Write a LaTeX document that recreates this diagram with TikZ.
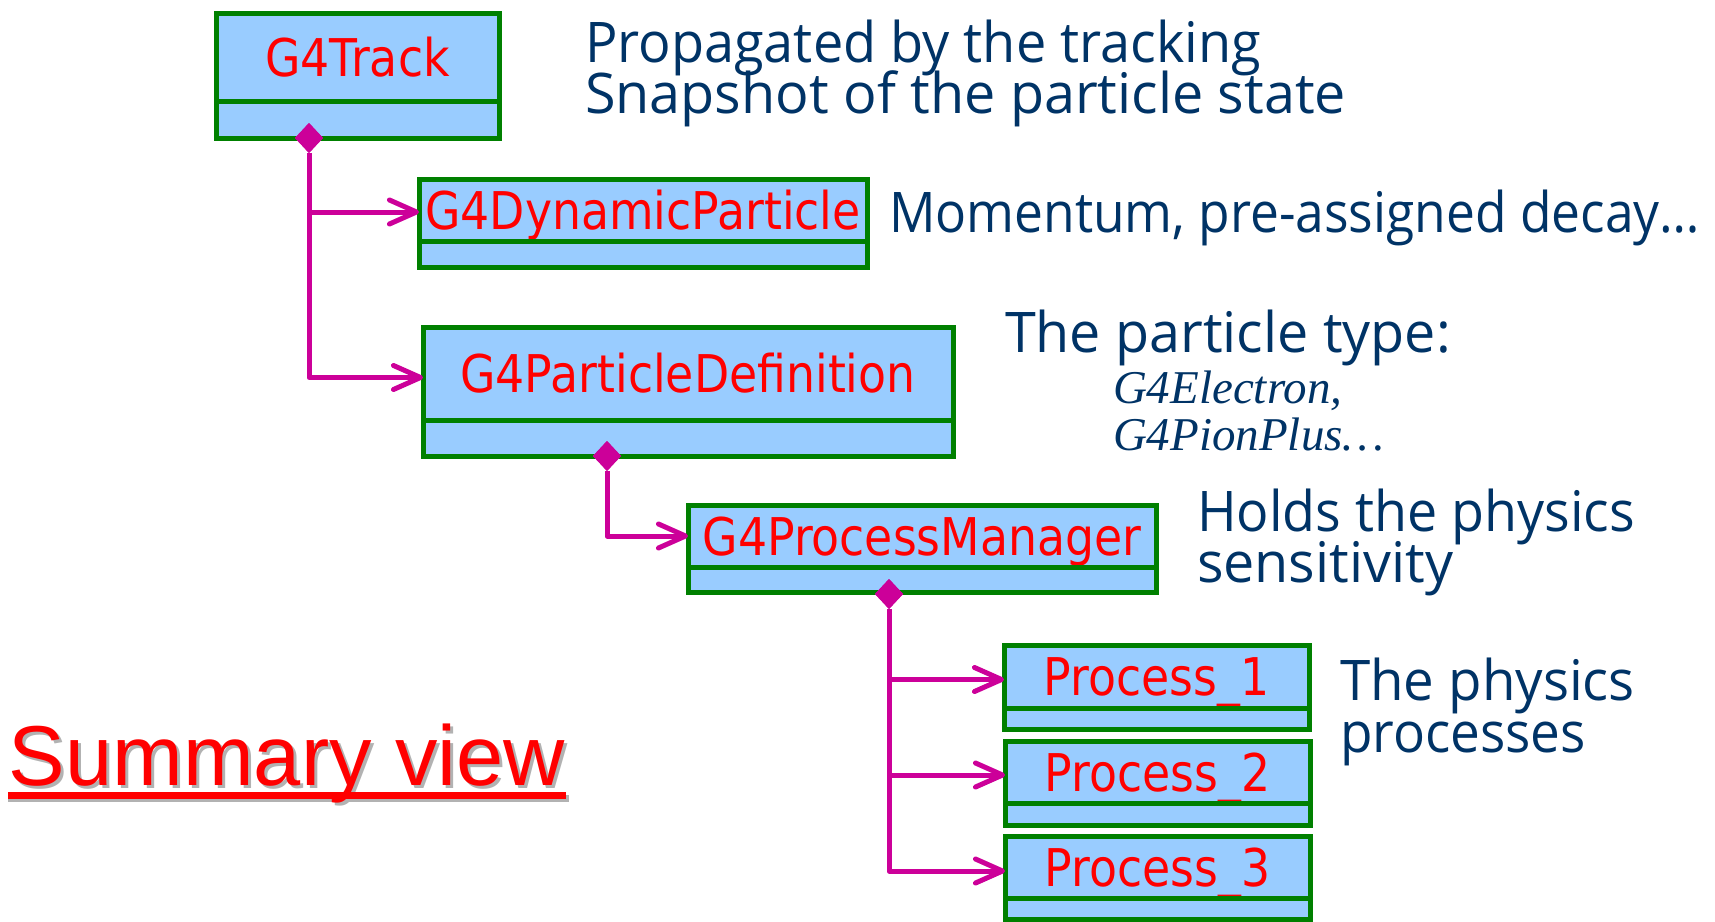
\documentclass[tikz,border=0pt]{standalone}
\usepackage{fontspec}
\usepackage{graphicx}
\usetikzlibrary{arrows.meta,shapes.geometric,calc}
\newfontfamily\boxfont[FakeStretch=0.88]{DejaVu Sans}
\newfontfamily\notefont{Open Sans}
\newfontfamily\serfont{Liberation Serif}
\newfontfamily\sumfont{Liberation Sans}
\definecolor{boxfill}{HTML}{99CCFF}
\definecolor{umlgreen}{HTML}{008000}
\definecolor{conncol}{HTML}{CC0099}
\definecolor{notecol}{HTML}{003366}
\definecolor{shadowcol}{HTML}{B2B2B2}
\newcommand{\fitto}[2]{\resizebox{#1pt}{\height}{#2}}
\tikzset{
  namebox/.style={draw=umlgreen, line width=5pt, fill=boxfill, inner sep=0pt, outer sep=0pt,
    anchor=north west, text=red, font=\boxfont\fontsize{52}{52}\selectfont,
    text height=38pt, text depth=0pt},
  bodybox/.style={draw=umlgreen, line width=5pt, fill=boxfill, inner sep=0pt, outer sep=0pt,
    anchor=north west},
  dmd/.style={diamond, fill=conncol, inner sep=0pt, outer sep=0pt,
    minimum width=28pt, minimum height=30pt},
  conn/.style={draw=conncol, line width=5pt, line join=round,
    -{Straight Barb[length=27pt,width=24pt,round]}},
  note/.style={inner sep=0pt, outer sep=0pt, anchor=base west, text=notecol,
    font=\notefont\fontsize{56}{56}\selectfont},
  itnote/.style={inner sep=0pt, outer sep=0pt, anchor=base west, text=notecol,
    font=\serfont\itshape\fontsize{47}{47}\selectfont},
  sumtxt/.style={inner sep=0pt, outer sep=0pt, anchor=base west, text=red,
    font=\sumfont\fontsize{85}{85}\selectfont},
  sumshadow/.style={sumtxt, text=shadowcol},
}
% name, L, T, R, D, B, label
\newcommand{\umlbox}[7]{%
  \node[namebox, minimum width={#4pt-#2pt}, minimum height={#5pt-#3pt}] (#1N) at (#2,#3) {#7};
  \node[bodybox, minimum width={#4pt-#2pt}, minimum height={#6pt-#5pt}] (#1B) at (#1N.south west) {};
}
\begin{document}
\begin{tikzpicture}[x=1pt,y=-1pt]
\useasboundingbox (0,0) rectangle (1715,921);

% class boxes
\umlbox{track}{216}{13}{499}{101}{138}{G4Track}
\umlbox{dyn}{419}{179}{867}{241}{267}{G4DynamicParticle}
\umlbox{pdef}{423}{327}{953}{420}{456}{G4ParticleDefinition}
\umlbox{pm}{688}{505}{1156}{567}{592}{G4ProcessManager}
\umlbox{pa}{1004}{645}{1309}{708}{729}{Process\_1}
\umlbox{pb}{1005}{741}{1310}{803}{825}{Process\_2}
\umlbox{pc}{1005}{836}{1310}{898}{919}{Process\_3}

% composition diamonds
\node[dmd] (trackD) at (309,138) {};
\node[dmd] (pdefD) at (607,456) {};
\node[dmd] (pmD) at (889,594) {};

% connectors
\draw[conn] (trackD.south) |- ([yshift=-2pt]dynN.west);
\draw[conn] (trackD.south) |- ([yshift=-4pt]pdefN.west);
\draw[conn] (pdefD.south) |- (pmN.west);
\draw[conn] (pmD.south) |- ([yshift=-3pt]paN.west);
\draw[conn] (pmD.south) |- ([yshift=-3pt]pbN.west);
\draw[conn] (pmD.south) |- ([yshift=-4pt]pcN.west);
\node[dmd] at (trackD) {};
\node[dmd] at (pdefD) {};
\node[dmd] at (pmD) {};

% notes
\node[note] (n1) at (585,62) {\fitto{676}{Propagated by the tracking}};
\node[note] (n2) at (585,113) {\fitto{761}{Snapshot of the particle state}};
\node[note] (n3) at (889,232) {\fitto{811}{Momentum, pre-assigned decay…}};
\node[note] (n4) at (1005,352) {\fitto{446}{The particle type:}};
\node[itnote] (e1) at (1113,403) {G4Electron,};
\node[itnote] (e2) at (1113,450) {G4PionPlus…};
\node[note] (n5) at (1197,531) {\fitto{438}{Holds the physics}};
\node[note] (n6) at (1197,582) {\fitto{256}{sensitivity}};
\node[note] (n7) at (1340,700) {\fitto{295}{The physics}};
\node[note] (n8) at (1340,752) {\fitto{246}{processes}};

% title
\node[sumshadow] (sumS) at (12,788) {\fitto{556}{Summary view}};
\fill[shadowcol] ($(sumS.base west)+(-4,6.5)$) rectangle ($(sumS.base east)+(1,13.5)$);
\node[sumtxt] (sum) at (9,785) {\fitto{556}{Summary view}};
\fill[red] ($(sum.base west)+(-1,6.5)$) rectangle ($(sum.base east)+(1,13.5)$);
\end{tikzpicture}
\end{document}
